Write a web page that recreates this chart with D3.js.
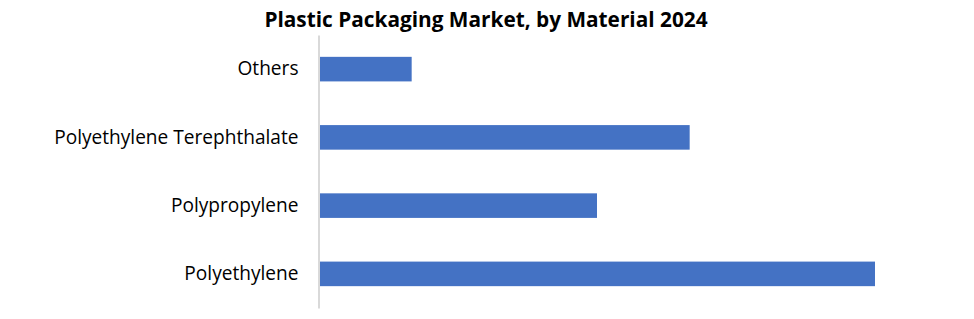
<!DOCTYPE html>
<html>
<head>
<meta charset="utf-8">
<script src="https://cdn.jsdelivr.net/npm/d3@7"></script>
<style>
    body { margin: 0; background: #fff; }
    text { font-family: "Open Sans", Lato, sans-serif; fill: #000; }
</style>
</head>
<body>
<div id="chart"></div>
<script>
// categories top to bottom, values in % share (estimated, no axis shown)
let categories = ["Others", "Polyethylene Terephthalate", "Polypropylene", "Polyethylene"];
let shares = [6, 24, 18, 36];

let width = 974, height = 319;
let margin = {left: 319, top: 35, bottom: 11};

let svg = d3.select("#chart").append("svg").attr("width", width).attr("height", height);

let xScale = d3.scaleLinear().domain([0, 36]).range([margin.left, 875]);
let yScale = d3.scaleBand().domain(categories).range([margin.top, height - margin.bottom]).paddingInner(0.64).paddingOuter(0.32);

svg.append("text").attr("x", 486).attr("y", 27).attr("text-anchor", "middle")
    .style("font-size", "20.8px").style("font-weight", "bold").text("Plastic Packaging Market, by Material 2024");

svg.selectAll("rect.bar").data(categories).join("rect").classed("bar", true)
    .attr("x", xScale(0)).attr("y", d => yScale(d))
    .attr("width", (d, i) => xScale(shares[i]) - xScale(0))
    .attr("height", yScale.bandwidth())
    .attr("fill", "#4472C4");

let yAxis = svg.append("g").attr("transform", "translate(" + (margin.left - 0.5) + ",0)")
    .call(d3.axisLeft(yScale).tickSize(0).tickPadding(20));
yAxis.select(".domain").attr("stroke", "#d9d9d9").attr("stroke-width", 2);
yAxis.selectAll("text").style("font-size", "19.1px").attr("dy", "0.33em");
</script>
</body>
</html>
